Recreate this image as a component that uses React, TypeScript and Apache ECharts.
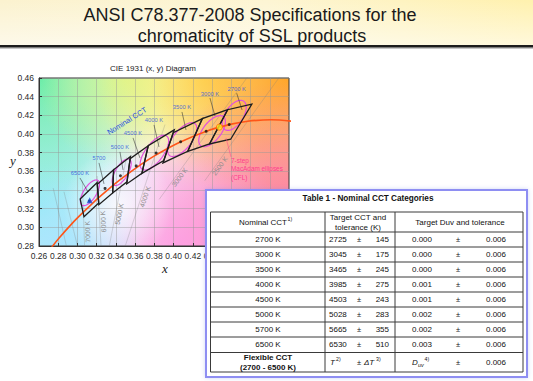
import React, { useEffect, useRef } from 'react';
import * as echarts from 'echarts';

const SANS = '"Liberation Sans", Arial, Helvetica, sans-serif';
const SERIF = '"Liberation Serif", "Times New Roman", serif';

// ---------- Texts ----------
const titleLines = ['ANSI C78.377-2008 Specifications for the', 'chromaticity of SSL products'];
const chartTitle = 'CIE 1931 (x, y) Diagram';
const tableTitle = 'Table 1 - Nominal CCT Categories';

// ---------- Axis ranges ----------
const xMin = 0.26, xMax = 0.52, xStep = 0.02;
const yMin = 0.28, yMax = 0.46, yStep = 0.02;
const xLastLabel = 0.44; // labels further right sit under the table

// ---------- ANSI quadrangles ----------
const quadLabels = ['2700 K', '3000 K', '3500 K', '4000 K', '4500 K', '5000 K', '5700', '6500 K'];
const quadCenterX = [0.4578, 0.4338, 0.4073, 0.3818, 0.3611, 0.3447, 0.3287, 0.3123];
const quadCenterY = [0.4101, 0.4030, 0.3917, 0.3797, 0.3658, 0.3553, 0.3417, 0.3282];
const quadCorners = [
  [0.4813, 0.4319, 0.4562, 0.4260, 0.4373, 0.3893, 0.4593, 0.3944],
  [0.4562, 0.4260, 0.4299, 0.4165, 0.4147, 0.3814, 0.4373, 0.3893],
  [0.4299, 0.4165, 0.3996, 0.4015, 0.3889, 0.3690, 0.4147, 0.3814],
  [0.4006, 0.4044, 0.3736, 0.3874, 0.3670, 0.3578, 0.3898, 0.3716],
  [0.3736, 0.3874, 0.3548, 0.3736, 0.3512, 0.3465, 0.3670, 0.3578],
  [0.3551, 0.3760, 0.3376, 0.3616, 0.3366, 0.3369, 0.3515, 0.3487],
  [0.3376, 0.3616, 0.3207, 0.3462, 0.3222, 0.3243, 0.3366, 0.3369],
  [0.3205, 0.3481, 0.3028, 0.3304, 0.3068, 0.3113, 0.3221, 0.3261],
];
// leader lines from the nominal CCT labels to the quadrangles
const leaderFromX = [0.4656, 0.4378, 0.4087, 0.3796, 0.3578, 0.3442, 0.3224, 0.3026];
const leaderFromY = [0.4437, 0.4385, 0.4236, 0.4097, 0.3958, 0.3808, 0.3690, 0.3529];
const leaderToX = [0.4712, 0.4430, 0.4129, 0.3848, 0.3650, 0.3474, 0.3276, 0.3110];
const leaderToY = [0.4257, 0.4193, 0.4043, 0.3861, 0.3743, 0.3615, 0.3465, 0.3379];

// ---------- Planckian locus ----------
const locusX = [0.2720, 0.2807, 0.2950, 0.3064, 0.3135, 0.3221, 0.3324, 0.3451, 0.3611, 0.3805, 0.4053, 0.4369, 0.4599, 0.4770, 0.5018, 0.5267];
const locusY = [0.2770, 0.2883, 0.3048, 0.3166, 0.3236, 0.3318, 0.3410, 0.3516, 0.3638, 0.3768, 0.3907, 0.4041, 0.4106, 0.4137, 0.4153, 0.4133];

// ---------- 7-step MacAdam ellipses (CFL) ----------
const ellipseX = [0.463, 0.440, 0.409, 0.380, 0.346, 0.313];
const ellipseY = [0.420, 0.403, 0.394, 0.380, 0.359, 0.337];
const ellipseA = [0.0181, 0.0195, 0.0216, 0.0219, 0.0160, 0.0156];
const ellipseB = [0.0095, 0.0095, 0.0097, 0.0094, 0.0067, 0.0067];
const ellipseAngle = [57.3, 53.1, 52.2, 54.0, 59.6, 58.2];

// ---------- reference points ----------
const illuminantA = [0.4476, 0.4074];
const d65 = [0.3127, 0.3290];

// ---------- isotemperature lines ----------
const isoLabels = ['', '', '7000 K', '6000 K', '5000 K', '4000 K', '3000 K', '2500 K'];
const isoFromX = [0.2885, 0.3000, 0.3074, 0.3245, 0.3331, 0.3497, 0.3850, 0.4324];
const isoFromY = [0.280, 0.280, 0.280, 0.280, 0.280, 0.280, 0.330, 0.350];
const isoToX = [0.2748, 0.2860, 0.3050, 0.3205, 0.3510, 0.3910, 0.4796, 0.5129];
const isoToY = [0.342, 0.338, 0.350, 0.355, 0.375, 0.410, 0.465, 0.465];
const isoLabelY = [0, 0, 0.2950, 0.3060, 0.3150, 0.3340, 0.3560, 0.3680];

// ---------- Table 1 ----------
const nominalCCT = ['2700 K', '3000 K', '3500 K', '4000 K', '4500 K', '5000 K', '5700 K', '6500 K'];
const targetCCT = [2725, 3045, 3465, 3985, 4503, 5028, 5665, 6530];
const cctTolerance = [145, 175, 245, 275, 243, 283, 355, 510];
const targetDuv = ['0.000', '0.000', '0.000', '0.001', '0.001', '0.002', '0.002', '0.003'];
const duvTolerance = ['0.006', '0.006', '0.006', '0.006', '0.006', '0.006', '0.006', '0.006'];
const flexibleLabel = ['Flexible CCT', '(2700 - 6500 K)'];
const flexibleDuvTolerance = '0.006';

function txt(x: number, y: number, text: string, o: any = {}) {
  const align = o.align || 'center';
  const valign = o.valign || 'middle';
  return {
    type: 'text', x, y, rotation: o.rotation || 0, z: o.z ?? 100, silent: true,
    style: {
      text, x: 0, y: 0, fill: o.color || '#111',
      fontSize: o.size || 8, fontWeight: o.weight || 'normal', fontStyle: o.style || 'normal',
      fontFamily: o.family || SANS,
      textAlign: align, textVerticalAlign: valign, align, verticalAlign: valign,
    },
  };
}
function seg(x1: number, y1: number, x2: number, y2: number, color: string, w: number, z = 100) {
  return { type: 'line', z, silent: true, shape: { x1, y1, x2, y2 }, style: { stroke: color, lineWidth: w } };
}

function buildOption(): any {
  const G = { left: 39, top: 78, width: 250, height: 168 };
  const bgLayers = [
    { cx: 39, cy: 205, r: 120, c: '140,236,240', a: 0.95 },
    { cx: 39, cy: 78, r: 125, c: '100,236,170', a: 1 },
    { cx: 125, cy: 78, r: 90, c: '215,246,140', a: 0.9 },
    { cx: 205, cy: 78, r: 110, c: '255,240,110', a: 1 },
    { cx: 289, cy: 78, r: 140, c: '255,165,40', a: 1 },
    { cx: 289, cy: 246, r: 165, c: '255,100,140', a: 1 },
    { cx: 180, cy: 246, r: 110, c: '255,150,230', a: 0.75 },
    { cx: 60, cy: 246, r: 80, c: '170,228,255', a: 0.9 },
    { cx: 118, cy: 205, r: 55, c: '255,255,255', a: 0.8 },
  ];
  const graphic: any[] = [];
  // header
  graphic.push({ type: 'rect', z: -20, silent: true, shape: { x: 0, y: 0, width: 533, height: 45 },
    style: { fill: { type: 'linear', x: 0, y: 0, x2: 1, y2: 0, colorStops: [
      { offset: 0, color: '#fbf2cf' }, { offset: 0.5, color: '#fdf5d3' }, { offset: 1, color: '#fff1ae' }] } } });
  graphic.push({ type: 'rect', z: -19, silent: true, shape: { x: 0, y: 0, width: 533, height: 45 },
    style: { fill: { type: 'linear', x: 0, y: 0, x2: 0, y2: 1, colorStops: [
      { offset: 0, color: 'rgba(255,255,255,0)' }, { offset: 1, color: 'rgba(255,255,255,0.55)' }] } } });
  graphic.push({ type: 'rect', z: -18, silent: true, shape: { x: 0, y: 45, width: 533, height: 2.5 }, style: { fill: '#1c1c1c' } });
  graphic.push({ type: 'rect', z: -18, silent: true, shape: { x: 0, y: 47.5, width: 533, height: 1.5 }, style: { fill: 'rgba(0,0,0,0.22)' } });
  graphic.push(txt(250, 14.5, titleLines[0], { size: 18, color: '#1a1a1a', z: 10 }));
  graphic.push(txt(252, 36, titleLines[1], { size: 18, color: '#1a1a1a', z: 10 }));

  // plot background
  graphic.push({ type: 'rect', z: -12, silent: true, shape: { x: G.left, y: G.top, width: G.width, height: G.height }, style: { fill: '#f6f2ff' } });
  bgLayers.forEach((L) => {
    graphic.push({ type: 'rect', z: -11, silent: true, shape: { x: G.left, y: G.top, width: G.width, height: G.height },
      style: { fill: { type: 'radial', x: L.cx, y: L.cy, r: L.r, global: true, colorStops: [
        { offset: 0, color: `rgba(${L.c},${L.a})` },
        { offset: 0.5, color: `rgba(${L.c},${(L.a * 0.55).toFixed(3)})` },
        { offset: 1, color: `rgba(${L.c},0)` }] } } });
  });

  // chart title and axis names
  graphic.push(txt(153, 68, chartTitle, { size: 8, color: '#222', z: 10 }));
  graphic.push(txt(13, 160, 'y', { size: 13, style: 'italic', family: SERIF, color: '#222', z: 10 }));
  graphic.push(txt(165, 268, 'x', { size: 13, style: 'italic', family: SERIF, color: '#222', z: 10 }));

  // annotations
  graphic.push(txt(127, 121, 'Nominal CCT', { size: 7.5, color: '#2a4fe0', rotation: 32 * Math.PI / 180, z: 50 }));
  graphic.push(txt(231, 160, '7-step', { size: 6.4, color: '#ff3d8e', align: 'left', z: 50 }));
  graphic.push(txt(231, 168.5, 'MacAdam ellipses', { size: 6.4, color: '#ff3d8e', align: 'left', z: 50 }));
  graphic.push(txt(231, 177, '(CFL)', { size: 6.4, color: '#ff3d8e', align: 'left', z: 50 }));

  // ---------- Table ----------
  graphic.push({ type: 'rect', z: 95, silent: true, shape: { x: 206, y: 190, width: 321, height: 187 },
    style: { fill: '#ffffff', stroke: '#8e8ef2', lineWidth: 2, shadowBlur: 4, shadowColor: 'rgba(120,140,230,0.35)' } });
  graphic.push(txt(368, 198.5, tableTitle, { size: 8.2, weight: 'bold' }));
  const rowsY = [212, 232, 247, 262, 277, 292, 307, 322, 337, 352.5, 372];
  const colX = [210.5, 325, 395, 523];
  rowsY.forEach((y) => graphic.push(seg(210.5, y, 523, y, '#3a3a3a', 1)));
  colX.forEach((x) => graphic.push(seg(x, 212, x, 372, '#3a3a3a', 1)));
  // header
  graphic.push(txt(263, 222, 'Nominal CCT', { size: 8 }));
  graphic.push(txt(287.5, 219, '1)', { size: 5.2, align: 'left' }));
  graphic.push(txt(358, 217, 'Target CCT and', { size: 8 }));
  graphic.push(txt(358, 227, 'tolerance (K)', { size: 8 }));
  graphic.push(txt(460, 222, 'Target Duv and tolerance', { size: 8 }));
  // body
  nominalCCT.forEach((n, i) => {
    const cy = (rowsY[i + 1] + rowsY[i + 2]) / 2;
    graphic.push(txt(268, cy, n, { size: 8 }));
    graphic.push(txt(329, cy, String(targetCCT[i]), { size: 8, align: 'left' }));
    graphic.push(txt(359, cy, '±', { size: 7.5 }));
    graphic.push(txt(389, cy, String(cctTolerance[i]), { size: 8, align: 'right' }));
    graphic.push(txt(412, cy, targetDuv[i], { size: 8, align: 'left' }));
    graphic.push(txt(458, cy, '±', { size: 7.5 }));
    graphic.push(txt(506, cy, duvTolerance[i], { size: 8, align: 'right' }));
  });
  const fy = (rowsY[9] + rowsY[10]) / 2;
  graphic.push(txt(268, 357.5, flexibleLabel[0], { size: 8, weight: 'bold' }));
  graphic.push(txt(268, 367, flexibleLabel[1], { size: 8, weight: 'bold' }));
  graphic.push(txt(330, fy, 'T', { size: 8, style: 'italic', align: 'left' }));
  graphic.push(txt(336, fy - 3, '2)', { size: 5.2, align: 'left' }));
  graphic.push(txt(359, fy, '±', { size: 7.5 }));
  graphic.push(txt(364, fy, 'ΔT', { size: 8, style: 'italic', align: 'left' }));
  graphic.push(txt(376, fy - 3, '3)', { size: 5.2, align: 'left' }));
  graphic.push(txt(412, fy, 'D', { size: 8, style: 'italic', align: 'left' }));
  graphic.push(txt(418, fy + 2.5, 'uv', { size: 5.5, style: 'italic', align: 'left' }));
  graphic.push(txt(424.5, fy - 3, '4)', { size: 5.2, align: 'left' }));
  graphic.push(txt(458, fy, '±', { size: 7.5 }));
  graphic.push(txt(506, fy, flexibleDuvTolerance, { size: 8, align: 'right' }));

  const axisCommon = (min: number, max: number, step: number, last: number) => ({
    type: 'value', min, max, interval: step,
    axisLine: { show: true, onZero: false, lineStyle: { color: '#333', width: 1 } },
    axisTick: { show: true, inside: true, length: 3, lineStyle: { color: '#333' } },
    axisLabel: {
      fontSize: 8.5, color: '#2a2a2a', fontFamily: SANS, margin: 5,
      formatter: (v: number) => (v <= last + 1e-6 ? v.toFixed(2) : ''),
    },
    splitLine: { show: true, lineStyle: { color: 'rgba(150,150,150,0.45)', width: 1 } },
    z: 0,
  });

  const labeledIso = isoLabels.map((t, i) => (t ? i : -1)).filter((i) => i >= 0);

  return {
    animation: false,
    backgroundColor: '#ffffff',
    grid: { ...G, show: true, borderColor: '#333', borderWidth: 1, backgroundColor: 'transparent', containLabel: false },
    xAxis: axisCommon(xMin, xMax, xStep, xLastLabel),
    yAxis: axisCommon(yMin, yMax, yStep, yMax),
    graphic,
    series: [
      {
        type: 'lines', coordinateSystem: 'cartesian2d', clip: true, silent: true, z: 2,
        lineStyle: { color: 'rgba(125,125,125,0.55)', width: 1 },
        data: isoFromX.map((x, i) => ({ coords: [[x, isoFromY[i]], [isoToX[i], isoToY[i]]] })),
      },
      {
        type: 'custom', coordinateSystem: 'cartesian2d', silent: true, z: 2,
        data: labeledIso.map((i) => [isoFromX[i], isoFromY[i]]),
        renderItem: (params: any, api: any) => {
          const i = labeledIso[params.dataIndex];
          const p1 = api.coord([isoFromX[i], isoFromY[i]]);
          const p2 = api.coord([isoToX[i], isoToY[i]]);
          const f = (isoLabelY[i] - isoFromY[i]) / (isoToY[i] - isoFromY[i]);
          const p = api.coord([isoFromX[i] + f * (isoToX[i] - isoFromX[i]), isoLabelY[i]]);
          const ang = Math.atan2(p1[1] - p2[1], p2[0] - p1[0]);
          const off = 3.5;
          return {
            type: 'text', x: p[0] + off * Math.sin(ang), y: p[1] + off * Math.cos(ang), rotation: ang,
            style: { text: isoLabels[i], fill: '#8a8a8a', fontSize: 6.8, fontFamily: SANS,
              textAlign: 'center', textVerticalAlign: 'middle', align: 'center', verticalAlign: 'middle' },
          };
        },
      },
      {
        type: 'custom', coordinateSystem: 'cartesian2d', silent: true, z: 3,
        data: ellipseX.map((x, i) => [x, ellipseY[i], ellipseA[i], ellipseB[i], ellipseAngle[i]]),
        renderItem: (params: any, api: any) => {
          const c = api.coord([api.value(0), api.value(1)]);
          const s = api.size([1, 1]);
          const th = api.value(4) * Math.PI / 180;
          const ux = Math.cos(th) * s[0], uy = -Math.sin(th) * s[1];
          const len = Math.hypot(ux, uy);
          const ex = ux / len, ey = uy / len;
          const rx = api.value(2) * len;
          const ry = api.value(3) * Math.sqrt(s[0] * s[1]);
          const pts: number[][] = [];
          for (let k = 0; k <= 72; k++) {
            const t = (k / 72) * 2 * Math.PI;
            const a = rx * Math.cos(t), b = ry * Math.sin(t);
            pts.push([c[0] + a * ex - b * ey, c[1] + a * ey + b * ex]);
          }
          return { type: 'polygon', shape: { points: pts }, style: { fill: 'transparent', stroke: '#e24fde', lineWidth: 1.2 } };
        },
      },
      {
        type: 'line', data: locusX.map((x, i) => [x, locusY[i]]), showSymbol: false, smooth: 0.3, clip: true,
        lineStyle: { color: '#ff5518', width: 1.6 }, silent: true, z: 4,
      },
      {
        type: 'custom', coordinateSystem: 'cartesian2d', silent: true, z: 5,
        data: quadCorners,
        renderItem: (params: any, api: any) => {
          const q = quadCorners[params.dataIndex];
          const pts = [0, 1, 2, 3].map((k) => api.coord([q[2 * k], q[2 * k + 1]]));
          return { type: 'polygon', shape: { points: pts }, style: { fill: 'transparent', stroke: '#1e1e1e', lineWidth: 1.3 } };
        },
      },
      {
        type: 'lines', coordinateSystem: 'cartesian2d', clip: true, silent: true, z: 5,
        lineStyle: { color: '#222', width: 1 },
        data: leaderFromX.map((x, i) => ({ coords: [[x, leaderFromY[i]], [leaderToX[i], leaderToY[i]]] })),
      },
      {
        type: 'lines', coordinateSystem: 'cartesian2d', clip: true, silent: true, z: 5,
        lineStyle: { color: '#ff3d8e', width: 1 },
        data: [{ coords: [[0.4597, 0.3754], [0.4545, 0.3958]] }],
      },
      {
        type: 'scatter', silent: true, z: 6, symbolSize: 3, itemStyle: { color: '#111' },
        data: quadCenterX.map((x, i) => [x, quadCenterY[i]]),
      },
      {
        type: 'scatter', silent: true, z: 7, symbol: 'circle', symbolSize: 6,
        itemStyle: { color: '#ffee22', borderColor: '#ff6a00', borderWidth: 1 },
        data: [illuminantA],
      },
      {
        type: 'scatter', silent: true, z: 7, symbol: 'triangle', symbolSize: 6,
        itemStyle: { color: '#1a4fd8' },
        data: [d65],
      },
      {
        type: 'scatter', silent: true, z: 8, symbolSize: 1, itemStyle: { color: 'rgba(0,0,0,0)' },
        data: leaderFromX.map((x, i) => [x, leaderFromY[i]]),
        label: {
          show: true, position: 'top', distance: 1, color: '#2a4fe0', fontSize: 5.8, fontFamily: SANS,
          formatter: (p: any) => quadLabels[p.dataIndex],
        },
      },
    ],
  };
}

export default function App() {
  const ref = useRef<HTMLDivElement>(null);
  useEffect(() => {
    const chart = echarts.init(ref.current as HTMLDivElement, null, { renderer: 'svg' });
    chart.setOption(buildOption());
    return () => chart.dispose();
  }, []);
  return (
    <div
      ref={ref}
      style={{ position: 'absolute', left: 0, top: 0, width: 533, height: 381, background: '#ffffff' }}
    />
  );
}
